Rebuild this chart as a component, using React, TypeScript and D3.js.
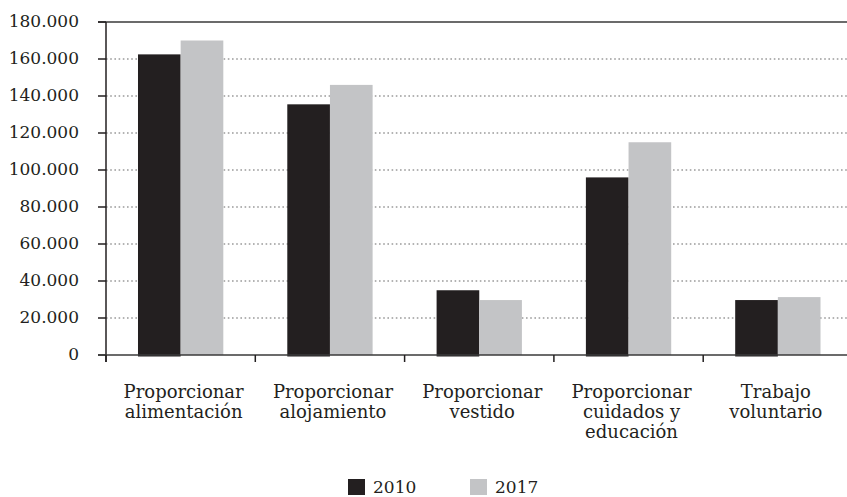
import React from "react";
import * as d3 from "d3";

const categories: string[][] = [
  ["Proporcionar", "alimentación"],
  ["Proporcionar", "alojamiento"],
  ["Proporcionar", "vestido"],
  ["Proporcionar", "cuidados y", "educación"],
  ["Trabajo", "voluntario"],
];
const categoryKeys = ["alimentacion", "alojamiento", "vestido", "cuidados", "voluntario"];
const seriesNames = ["2010", "2017"];
const values2010 = [162500, 135500, 35000, 96000, 29700];
const values2017 = [170000, 146000, 29700, 115000, 31300];
const yTicks = [0, 20000, 40000, 60000, 80000, 100000, 120000, 140000, 160000, 180000];

const W = 847;
const H = 497;
const colors = ["#231f20", "#c3c4c6"];
const font = "'DejaVu Serif', serif";

export default function App() {
  const x0 = d3.scaleBand<string>().domain(categoryKeys).range([106, 852.5]).padding(0);
  const x1 = d3
    .scaleBand<string>()
    .domain(seriesNames)
    .range([0, x0.bandwidth()])
    .paddingInner(0)
    .paddingOuter(0.75);
  const y = d3.scaleLinear().domain([0, 180000]).range([355, 22]);
  const fmt = (v: number) => (v === 0 ? "0" : d3.format(",")(v).replace(/,/g, "."));
  const series = [values2010, values2017];
  const boundaries = categoryKeys.map((k) => x0(k) as number);

  return (
    <svg
      width={W}
      height={H}
      style={{ position: "absolute", left: 0, top: 0, background: "#fff" }}
      fontFamily={font}
    >
      <rect x={0} y={0} width={W} height={H} fill="#fff" />
      {yTicks
        .filter((t) => t !== 0 && t !== 180000)
        .map((t) => (
          <line
            key={"g" + t}
            x1={106}
            x2={W}
            y1={y(t)}
            y2={y(t)}
            stroke="#9a9a9a"
            strokeWidth={1.3}
            strokeDasharray="1.6,2.6"
          />
        ))}
      <line x1={98} x2={W} y1={y(180000)} y2={y(180000)} stroke="#3a3a3a" strokeWidth={1.6} />
      {categoryKeys.map((k, i) =>
        seriesNames.map((s, j) => (
          <rect
            key={k + s}
            x={(x0(k) as number) + (x1(s) as number)}
            y={y(series[j][i])}
            width={x1.bandwidth()}
            height={y(0) - y(series[j][i]) + (j === 0 ? 1.5 : 0)}
            fill={colors[j]}
          />
        ))
      )}
      {yTicks.map((t) => (
        <g key={"t" + t}>
          <line x1={98} x2={106} y1={y(t)} y2={y(t)} stroke="#231f20" strokeWidth={1.5} />
          <text
            x={79}
            y={y(t) - 1}
            dy="0.36em"
            textAnchor="end"
            fontSize={17}
            fill="#231f20"
          >
            {fmt(t)}
          </text>
        </g>
      ))}
      <line x1={106} x2={106} y1={y(180000)} y2={362} stroke="#231f20" strokeWidth={1.5} />
      <line x1={98} x2={W} y1={y(0)} y2={y(0)} stroke="#3a3a3a" strokeWidth={1.6} />
      {boundaries.map((b, i) => (
        <line key={"xt" + i} x1={b} x2={b} y1={y(0)} y2={362} stroke="#231f20" strokeWidth={1.5} />
      ))}
      {categoryKeys.map((k, i) => {
        const cx = (x0(k) as number) + x0.bandwidth() / 2 + (i < 4 ? 3 : -2);
        return (
          <text key={"c" + k} x={cx} y={397.5} textAnchor="middle" fontSize={18} fill="#231f20">
            {categories[i].map((line, li) => (
              <tspan key={li} x={cx} dy={li === 0 ? 0 : 20.3}>
                {line}
              </tspan>
            ))}
          </text>
        );
      })}
      {seriesNames.map((s, j) => (
        <g key={"l" + s} transform={`translate(${348 + j * 122},0)`}>
          <rect x={0} y={479} width={17} height={16} fill={colors[j]} />
          <text x={25} y={493} fontSize={17} fill="#231f20">
            {s}
          </text>
        </g>
      ))}
    </svg>
  );
}
